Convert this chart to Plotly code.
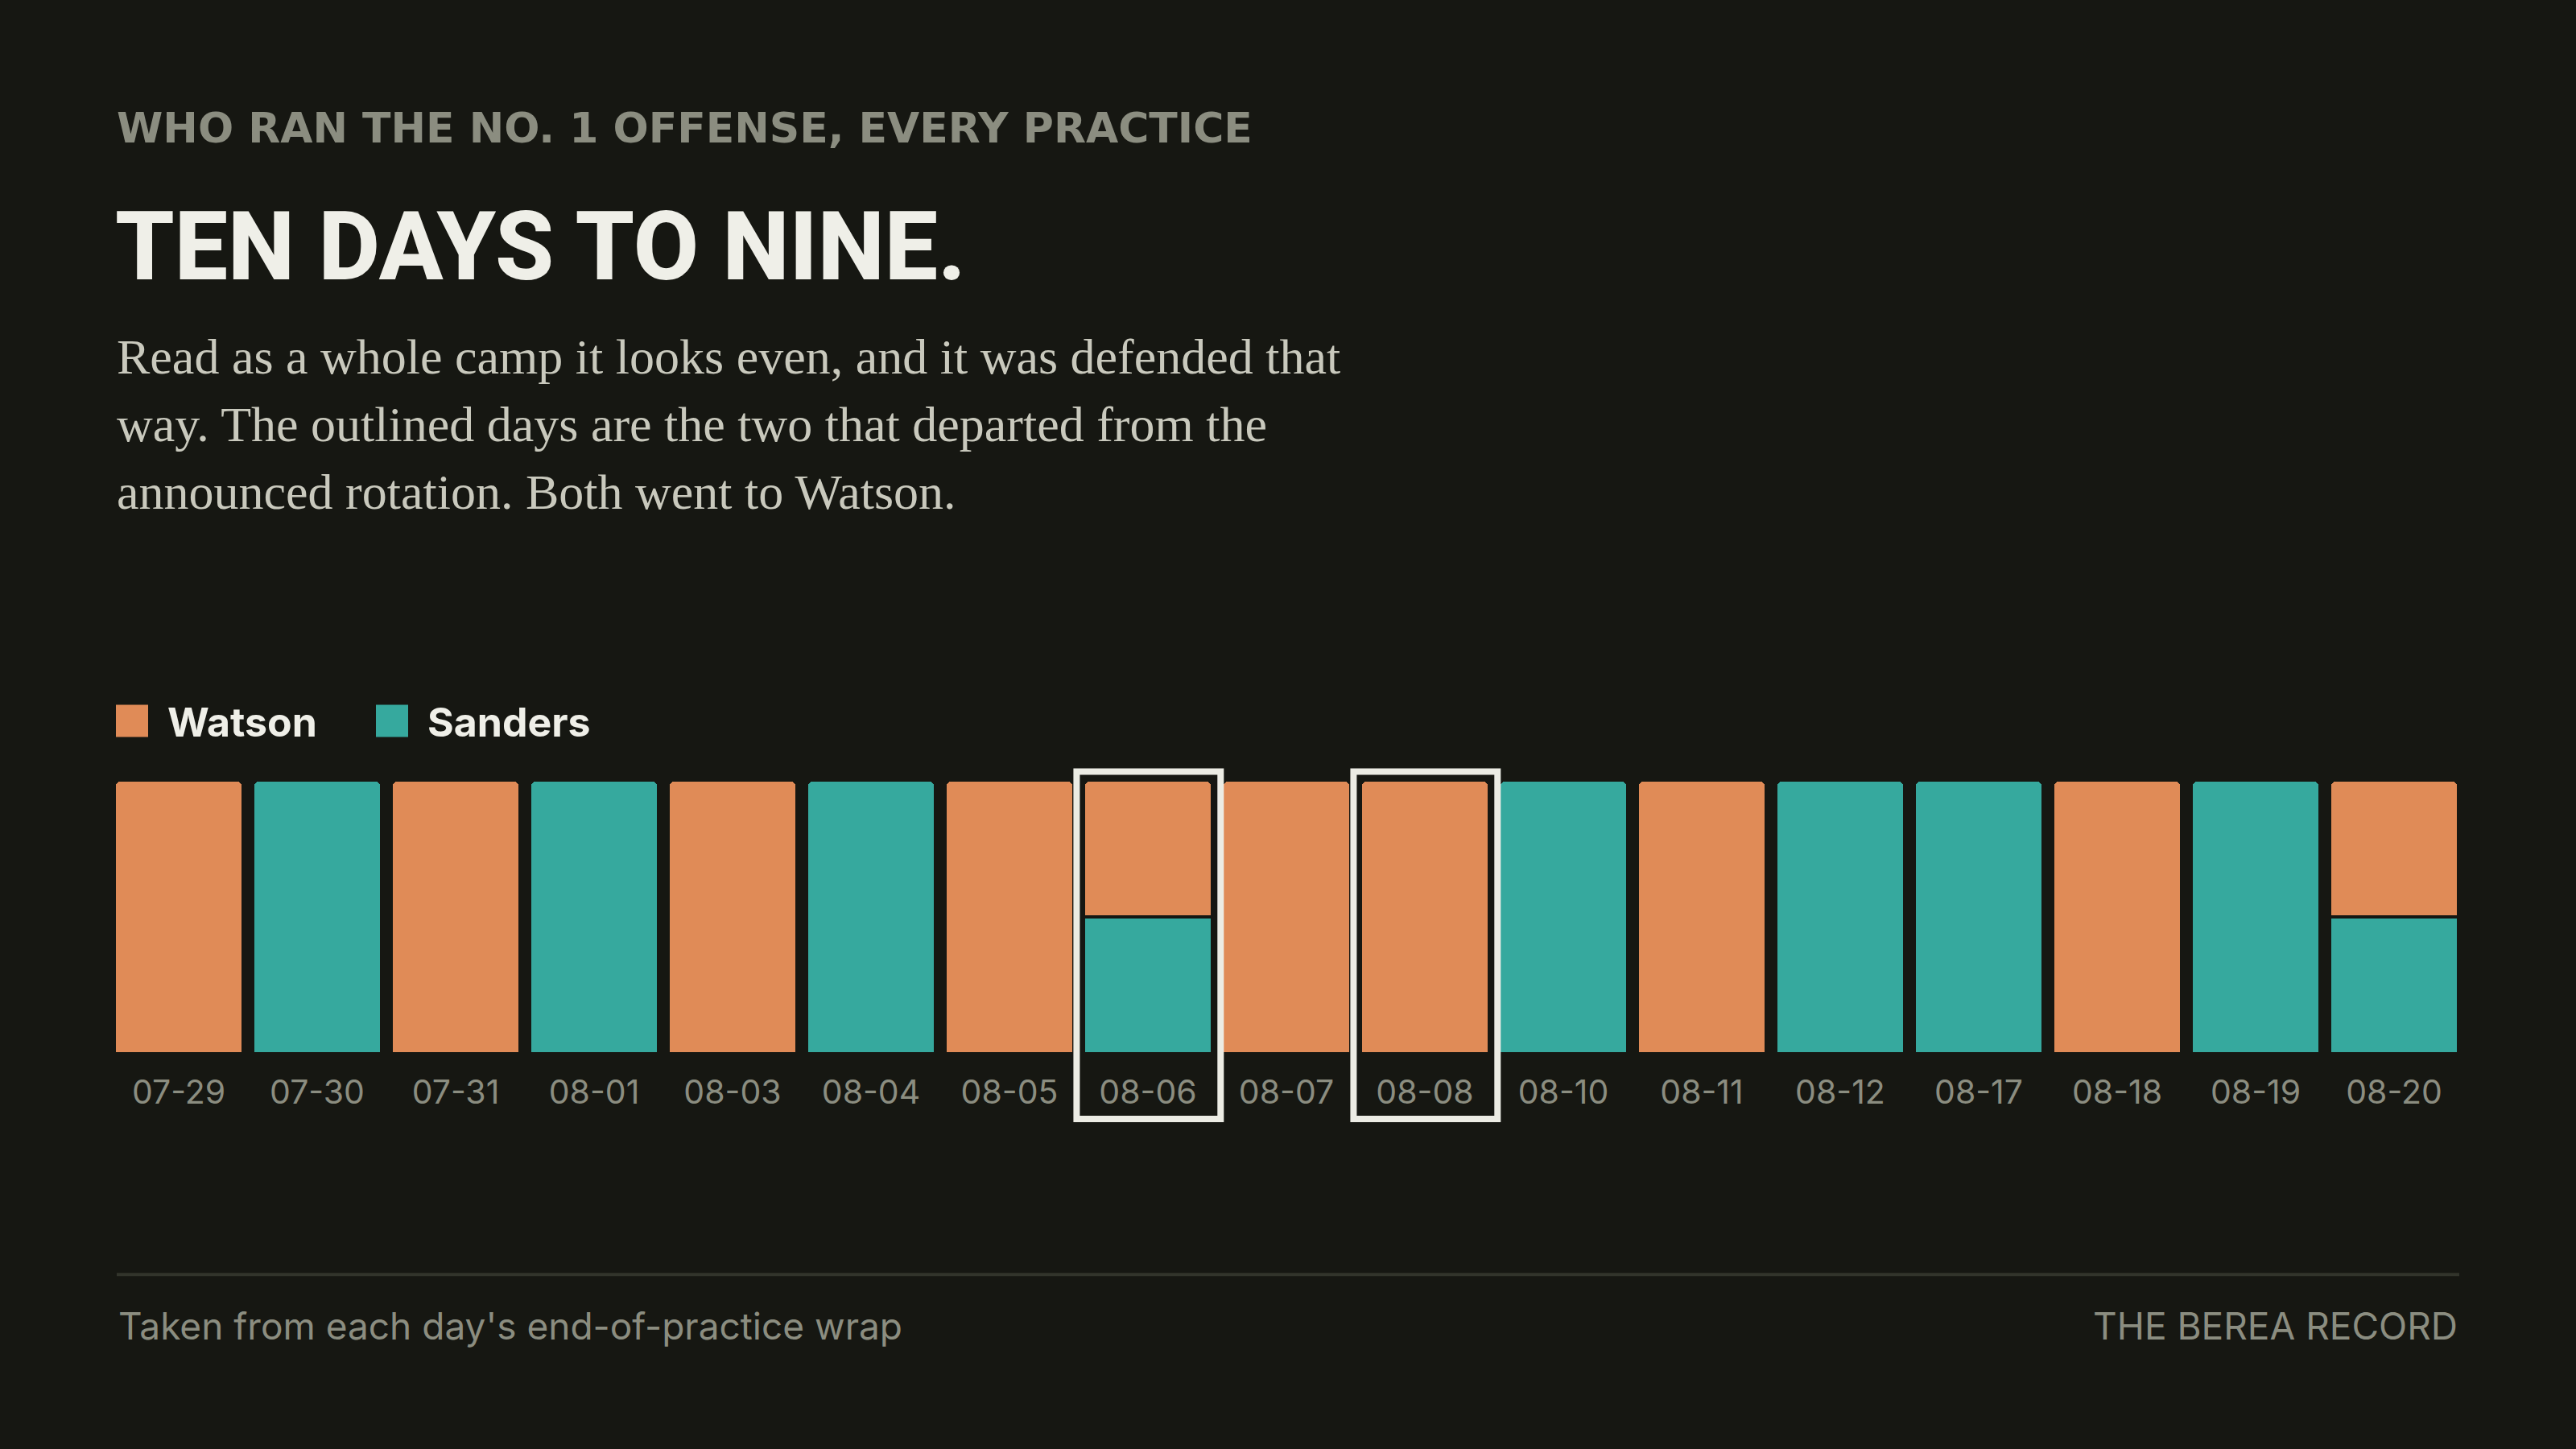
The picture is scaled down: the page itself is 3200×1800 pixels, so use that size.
import plotly.graph_objects as go

# ---------------- data ----------------
days = ["07-29", "07-30", "07-31", "08-01", "08-03", "08-04", "08-05", "08-06", "08-07",
        "08-08", "08-10", "08-11", "08-12", "08-17", "08-18", "08-19", "08-20"]
watson = [1, 0, 1, 0, 1, 0, 1, 0.5, 1, 1, 0, 1, 0, 0, 1, 0, 0.5]
sanders = [0, 1, 0, 1, 0, 1, 0, 0.5, 0, 0, 1, 0, 1, 1, 0, 1, 0.5]
outlined = ["08-06", "08-08"]

kicker = "WHO RAN THE NO. 1 OFFENSE, EVERY PRACTICE"
headline = "TEN DAYS TO NINE."
dek_lines = [
    "Read as a whole camp it looks even, and it was defended that",
    "way. The outlined days are the two that departed from the",
    "announced rotation. Both went to Watson.",
]
source = "Taken from each day's end-of-practice wrap"
credit = "THE BEREA RECORD"

# ---------------- style ----------------
BG = "#161712"
ORANGE = "#e08b57"
TEAL = "#36a99e"
INK = "#efefe8"
GREY = "#8b8d80"
DEK = "#c9c9bd"
RULE = "#32342b"
SANS = "Inter, Roboto, sans-serif"
SERIF = "Liberation Serif, DejaVu Serif, serif"
CONDENSED = "Roboto, Inter, sans-serif"

W, H = 3200, 1800
L, R = 136, 140
Y0PX = 1309          # pixel row of y = 0
UNIT = 340           # pixels per 1.0 on y
YMAX = 1.04
T = Y0PX - YMAX * UNIT
B = H - Y0PX


def px_x(p):
    return (p - L) / (W - L - R)


def px_y(p):
    return (Y0PX - p) / (Y0PX - T)


def blank_zero(vals):
    return [v if v else None for v in vals]


fig = go.Figure()
fig.add_bar(x=days, y=blank_zero(sanders), name="Sanders",
            marker=dict(color=TEAL, line=dict(color=BG, width=4), cornerradius=8),
            showlegend=False)
fig.add_bar(x=days, y=blank_zero(watson), name="Watson",
            marker=dict(color=ORANGE, line=dict(color=BG, width=4), cornerradius=8),
            showlegend=False)

# outlined days
for d in outlined:
    i = days.index(d)
    fig.add_shape(type="rect", xref="x", yref="paper",
                  x0=i - 0.515, x1=i + 0.525, y0=px_y(1390), y1=px_y(959),
                  line=dict(color="#ecece4", width=8), fillcolor="rgba(0,0,0,0)", layer="above")

# legend (custom, big swatches)
legend_items = [("Watson", ORANGE, 144), ("Sanders", TEAL, 467)]
for name, col, x in legend_items:
    fig.add_shape(type="rect", xref="paper", yref="paper",
                  x0=px_x(x), x1=px_x(x + 40), y0=px_y(916), y1=px_y(876),
                  line=dict(width=0), fillcolor=col)
    fig.add_annotation(text=name, xref="paper", yref="paper", x=px_x(x + 62), y=px_y(897),
                       xanchor="left", yanchor="middle", showarrow=False,
                       font=dict(family=SANS, size=50, color=INK, weight=650))

# header text
fig.add_annotation(text=kicker, xref="paper", yref="paper", x=px_x(143), y=px_y(160),
                   xanchor="left", yanchor="middle", showarrow=False,
                   font=dict(family="DejaVu Sans, Inter, sans-serif", size=52, color=GREY, weight=700))
fig.add_annotation(text=headline, xref="paper", yref="paper", x=px_x(141), y=px_y(308),
                   xanchor="left", yanchor="middle", showarrow=False,
                   font=dict(family=CONDENSED, size=118, color=INK, weight=800))
for k, line in enumerate(dek_lines):
    fig.add_annotation(text=line, xref="paper", yref="paper", x=px_x(143), y=px_y(444 + 84 * k),
                       xanchor="left", yanchor="middle", showarrow=False,
                       font=dict(family=SERIF, size=62, color=DEK))

# footer
fig.add_shape(type="line", xref="paper", yref="paper",
              x0=px_x(145), x1=px_x(3055), y0=px_y(1583), y1=px_y(1583),
              line=dict(color=RULE, width=4))
fig.add_annotation(text=source, xref="paper", yref="paper", x=px_x(145), y=px_y(1647),
                   xanchor="left", yanchor="middle", showarrow=False,
                   font=dict(family=SANS, size=46, color=GREY))
fig.add_annotation(text=credit, xref="paper", yref="paper", x=px_x(3055), y=px_y(1647),
                   xanchor="right", yanchor="middle", showarrow=False,
                   font=dict(family=SANS, size=46, color=GREY))

fig.update_layout(
    width=W, height=H,
    margin=dict(l=L, r=R, t=T, b=B, pad=0),
    paper_bgcolor=BG, plot_bgcolor=BG,
    barmode="stack", bargap=12 / 172, barcornerradius=8,
    showlegend=False,
)
fig.update_xaxes(type="category", range=[-0.5, len(days) - 0.5], showgrid=False, zeroline=False,
                 showline=False, ticks="", ticklabelstandoff=20,
                 tickfont=dict(family=SANS, size=41, color=GREY))
fig.update_yaxes(range=[0, YMAX], visible=False, showgrid=False, zeroline=False)

fig.write_html("out.html", config={"displayModeBar": False},
               post_script="document.body.style.margin='0';"
                           "document.body.style.background='%s';" % BG)
